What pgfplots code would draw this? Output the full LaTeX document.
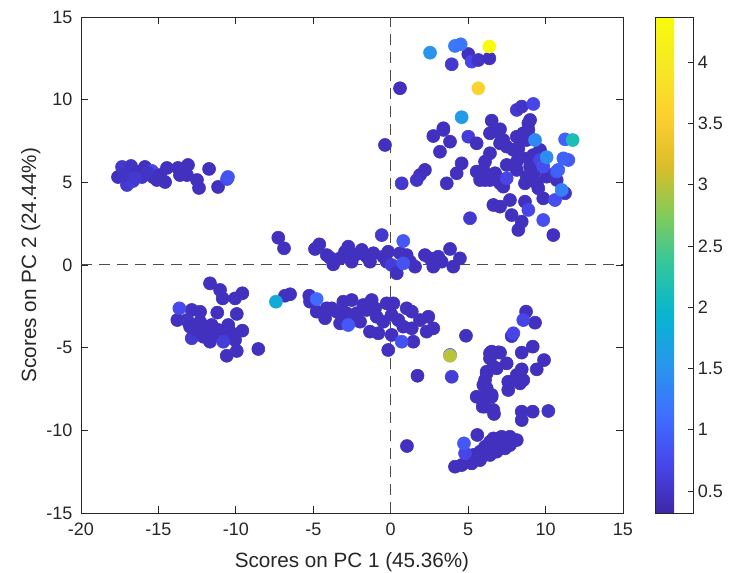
\documentclass[border=0pt]{standalone}
\usepackage{fontspec}
\setmainfont{Liberation Sans}
\usepackage{pgfplots}
\pgfplotsset{compat=1.18}
\pgfplotsset{
  /pgf/number format/assume math mode=true,
  colormap={parula}{
    rgb=(0.2422,0.1504,0.6603) rgb=(0.2803,0.2782,0.9221)
    rgb=(0.2440,0.4358,0.9988) rgb=(0.1540,0.5902,0.9218)
    rgb=(0.0297,0.7082,0.8163) rgb=(0.1938,0.7758,0.6251)
    rgb=(0.5044,0.7993,0.3480) rgb=(0.8634,0.7406,0.1596)
    rgb=(0.9892,0.8136,0.1885) rgb=(0.9657,0.9093,0.1389)
    rgb=(0.9763,0.9831,0.0538)},
}
\definecolor{axgray}{RGB}{38,38,38}
\newcommand{\tickfont}{\fontsize{13.5pt}{16pt}\selectfont}
\newcommand{\labfont}{\fontsize{15.5pt}{18pt}\selectfont}

\begin{document}
\begin{tikzpicture}
\useasboundingbox (-60.75pt,-45pt) rectangle (486pt,384.75pt);
\begin{axis}[
    width=406.5pt, height=372pt, scale only axis,
    xmin=-20, xmax=15, ymin=-15, ymax=15,
    xtick={-20,-15,...,15}, ytick={-15,-10,...,15},
    axis line style={axgray, line width=0.6pt},
    tick style={axgray, line width=0.6pt}, major tick length=5pt,
    ticklabel style={font=\tickfont, text=axgray},
    xticklabel style={yshift=-4pt},
    yticklabel style={xshift=-3pt},
    xlabel={Scores on PC 1 (45.36\%)}, ylabel={Scores on PC 2 (24.44\%)},
    label style={font=\labfont, text=axgray},
    xlabel style={yshift=-5.5pt},
    ylabel style={yshift=-2.5pt},
    colormap name=parula,
    point meta min=0.32, point meta max=4.37,
    colorbar,
    colorbar style={
        at={(parent axis.north east)}, anchor=north west, xshift=15.5pt,
        width=28.5pt,
        ytick={0.5,1,...,4}, ytick pos=right, yticklabel pos=right,
        tick align=inside, major tick length=4pt,
        axis line style={axgray, line width=0.6pt},
        yticklabel style={font=\tickfont, text=axgray, xshift=0pt},
    },
]
\draw[black!70, line width=0.75pt, dash pattern=on 8pt off 5.5pt] (axis cs:0,-15) -- (axis cs:0,15);
\draw[black!70, line width=0.75pt, dash pattern=on 8pt off 5.5pt] (axis cs:-20,0) -- (axis cs:15,0);
\addplot[scatter, only marks, mark=*, mark size=4.9pt, point meta=explicit,
    scatter/use mapped color={draw=mapped color, fill=mapped color}]
  table[meta=c] {
x y c
-17.61 5.32 0.45
-17.35 5.93 0.55
-16.77 5.99 0.5
-17.03 4.84 0.55
-16.64 5.08 0.6
-16.32 5.63 0.45
-16.06 5.32 0.5
-15.87 5.93 0.45
-15.42 5.69 0.7
-15.35 5.32 0.45
-14.90 5.44 0.45
-14.57 5.02 0.45
-14.45 5.87 0.45
-13.74 5.87 0.45
-13.61 5.44 0.45
-13.16 5.44 0.45
-13.09 6.05 0.45
-12.51 5.14 0.45
-12.38 4.66 0.45
-11.73 5.81 0.45
-11.15 4.72 0.45
-10.57 5.20 0.75
-10.51 5.32 0.85
-17.16 5.44 0.5
-16.51 5.26 0.55
-15.68 5.57 0.5
-15.10 5.14 0.45
-11.67 -1.11 0.45
-11.02 -1.51 0.45
-10.85 -2.02 0.45
-10.05 -2.02 0.45
-9.58 -1.71 0.45
-13.78 -3.33 0.45
-13.07 -3.43 0.6
-12.85 -2.72 0.45
-12.31 -2.83 0.45
-11.20 -2.88 0.45
-9.94 -2.96 0.45
-12.85 -4.43 0.55
-12.53 -3.93 0.45
-11.88 -3.73 0.45
-11.46 -4.13 0.45
-11.67 -4.64 0.45
-10.49 -3.63 0.45
-10.59 -4.34 0.45
-10.05 -4.54 0.45
-9.58 -3.97 0.45
-9.94 -5.20 0.45
-10.59 -5.49 0.45
-8.55 -5.08 0.45
-11.13 -3.93 0.45
-12.10 -4.34 0.45
-13.17 -3.33 0.5
-12.31 -3.43 0.45
-11.56 -3.63 0.45
-11.02 -4.23 0.45
-10.27 -4.13 0.45
-12.96 -3.73 0.45
-10.81 -4.64 0.6
-13.65 -2.62 0.75
-7.26 1.65 0.45
-6.89 1.01 0.45
-4.89 0.97 0.45
-4.61 1.25 0.45
-4.13 0.60 0.45
-3.92 0.44 0.45
-3.71 0.04 0.45
-3.27 0.40 0.45
-2.95 0.80 0.45
-2.74 1.11 0.45
-2.52 0.20 0.45
-2.31 0.60 0.45
-1.98 0.71 0.45
-1.87 0.91 0.45
-1.55 0.50 0.45
-1.34 0.20 0.45
-1.12 0.71 0.45
-0.58 1.81 0.55
-0.48 0.50 0.45
-0.26 0.20 0.45
-0.16 0.80 0.45
0.06 0.00 0.6
0.39 -0.50 0.45
0.60 0.71 0.45
1.03 0.60 0.45
1.25 0.20 0.45
1.57 -0.10 0.45
2.21 0.60 0.45
2.54 0.40 0.45
2.75 -0.10 0.45
3.07 0.50 0.45
3.29 0.20 0.45
3.83 0.97 0.45
4.04 -0.10 0.45
4.47 0.40 0.45
0.81 0.10 0.85
0.81 1.45 0.9
-6.83 -1.86 0.45
-6.50 -1.77 0.45
-5.26 -1.86 0.45
-5.21 -2.22 0.45
-4.78 -2.82 0.45
-4.24 -3.22 0.45
-4.13 -2.62 0.45
-3.81 -2.62 0.45
-3.49 -2.82 0.45
-3.27 -3.53 0.45
-3.06 -2.22 0.45
-2.84 -2.92 0.45
-2.52 -2.12 0.45
-2.41 -3.22 0.45
-2.20 -2.92 0.45
-1.98 -3.43 0.45
-1.77 -2.42 0.45
-1.55 -2.72 0.45
-1.23 -2.12 0.45
-1.34 -4.03 0.45
-1.01 -2.62 0.45
-0.91 -3.13 0.45
-0.80 -4.13 0.45
-0.48 -3.43 0.45
-0.26 -2.32 0.45
0.17 -2.32 0.45
0.06 -3.02 0.45
0.06 -4.23 0.45
0.49 -3.33 0.45
0.81 -3.73 0.45
1.03 -2.62 0.45
1.36 -2.82 0.45
1.36 -3.83 0.45
1.89 -3.33 0.45
2.43 -3.13 0.45
2.32 -4.03 0.45
2.75 -3.83 0.45
1.46 -4.64 0.45
-0.16 -5.14 0.45
1.73 -6.70 0.45
1.05 -10.95 0.45
-2.74 -3.63 0.9
0.71 -4.64 0.85
-4.78 -2.06 1.1
5.01 12.76 0.45
3.94 12.14 0.55
5.23 12.30 0.7
5.66 12.40 0.5
6.37 12.50 0.45
0.60 10.69 0.45
6.52 8.73 0.45
3.40 8.27 0.45
8.14 9.38 0.55
8.46 9.58 0.5
9.21 9.74 0.7
9.00 8.77 0.45
7.06 8.21 0.45
-0.37 7.26 0.45
2.75 7.80 0.45
3.40 8.17 0.45
3.83 7.46 0.45
3.18 6.85 0.45
5.01 7.76 0.6
5.55 7.36 0.45
4.58 6.15 0.45
4.26 5.55 0.45
3.62 4.94 0.45
1.89 5.44 0.45
1.68 5.14 0.5
2.21 5.75 0.45
0.71 4.94 0.55
5.12 2.83 0.55
6.09 6.25 0.45
6.41 6.76 0.45
6.84 8.07 0.45
6.41 7.97 0.45
7.06 7.36 0.45
7.27 7.56 0.45
7.49 7.16 0.45
6.74 5.55 0.45
5.55 5.65 0.45
5.98 5.75 0.45
5.77 5.14 0.45
6.09 5.14 0.45
6.41 5.14 0.45
6.84 5.34 0.45
7.06 4.94 0.45
7.49 6.05 0.45
7.27 4.74 0.45
7.92 6.96 0.45
8.14 7.76 0.45
8.24 7.06 0.45
8.35 6.55 0.45
8.56 7.97 0.45
8.78 7.56 0.45
8.89 8.57 0.45
8.89 8.17 0.45
9.64 6.96 0.45
9.21 6.65 0.45
8.14 6.25 0.45
8.89 6.45 0.45
9.00 5.95 0.45
9.43 5.85 0.45
10.29 5.44 0.45
8.14 5.75 0.45
8.78 5.34 0.45
9.21 5.44 0.45
8.67 4.94 0.45
9.43 4.94 0.45
9.53 4.64 0.45
9.85 4.03 0.45
10.07 5.34 0.45
10.72 5.14 0.45
11.26 4.34 0.5
6.63 3.63 0.45
7.06 3.53 0.45
7.70 3.93 0.45
7.81 3.02 0.45
8.67 3.83 0.45
8.46 2.62 0.45
8.24 2.12 0.45
10.50 1.81 0.45
7.49 5.24 0.7
9.64 6.35 0.7
8.89 3.33 0.7
9.85 2.72 0.8
9.85 5.95 0.8
10.61 3.93 0.8
10.72 5.65 0.9
10.82 5.75 1.0
11.47 6.35 0.9
11.15 6.45 1.0
11.26 7.60 1.0
8.74 -2.82 0.45
9.32 -3.49 0.45
7.81 -4.30 0.45
8.46 -5.30 0.45
9.17 -4.94 0.45
9.90 -5.75 0.45
9.43 -6.31 0.45
8.46 -6.31 0.45
8.56 -6.96 0.45
8.14 -6.65 0.45
7.59 -7.06 0.45
7.59 -7.56 0.45
8.35 -7.16 0.45
6.52 -5.24 0.45
7.06 -5.30 0.45
6.41 -5.34 0.45
6.95 -5.28 0.45
6.41 -5.65 0.45
7.49 -5.95 0.45
6.84 -6.25 0.45
6.63 -6.15 0.45
6.20 -6.45 0.45
6.20 -6.55 0.45
6.09 -6.96 0.45
5.98 -7.26 0.45
6.20 -7.46 0.45
6.52 -7.86 0.45
6.52 -7.97 0.45
5.55 -7.97 0.45
5.98 -8.17 0.45
6.09 -8.57 0.45
5.94 -8.57 0.45
6.63 -8.77 0.45
6.67 -9.01 0.45
8.46 -8.87 0.45
8.46 -9.38 0.45
9.17 -8.87 0.45
10.18 -8.83 0.5
4.86 -4.28 0.45
3.94 -6.76 0.6
8.56 -3.33 0.7
7.92 -4.13 0.7
5.59 -10.28 0.45
4.15 -12.20 0.45
4.58 -12.10 0.45
5.23 -12.00 0.45
5.77 -11.80 0.45
6.41 -11.49 0.45
6.41 -10.69 0.45
7.16 -10.39 0.45
7.70 -10.39 0.45
8.14 -10.59 0.45
7.38 -11.09 0.45
6.84 -11.29 0.45
6.09 -10.99 0.45
5.77 -11.29 0.45
5.33 -11.49 0.45
7.06 -10.79 0.45
7.70 -10.89 0.45
6.63 -10.49 0.45
4.80 -11.39 0.7
4.73 -10.79 0.9
4.15 13.25 1.25
4.52 13.35 1.2
2.54 12.84 1.5
4.58 8.94 1.6
9.32 7.56 1.4
10.07 6.52 1.45
11.04 4.54 1.3
-7.41 -2.22 1.8
3.83 -5.44 1.0
3.83 -5.49 3.0
11.75 7.56 2.15
5.66 10.69 3.65
6.37 13.21 4.37
};
\end{axis}
\end{tikzpicture}
\end{document}
